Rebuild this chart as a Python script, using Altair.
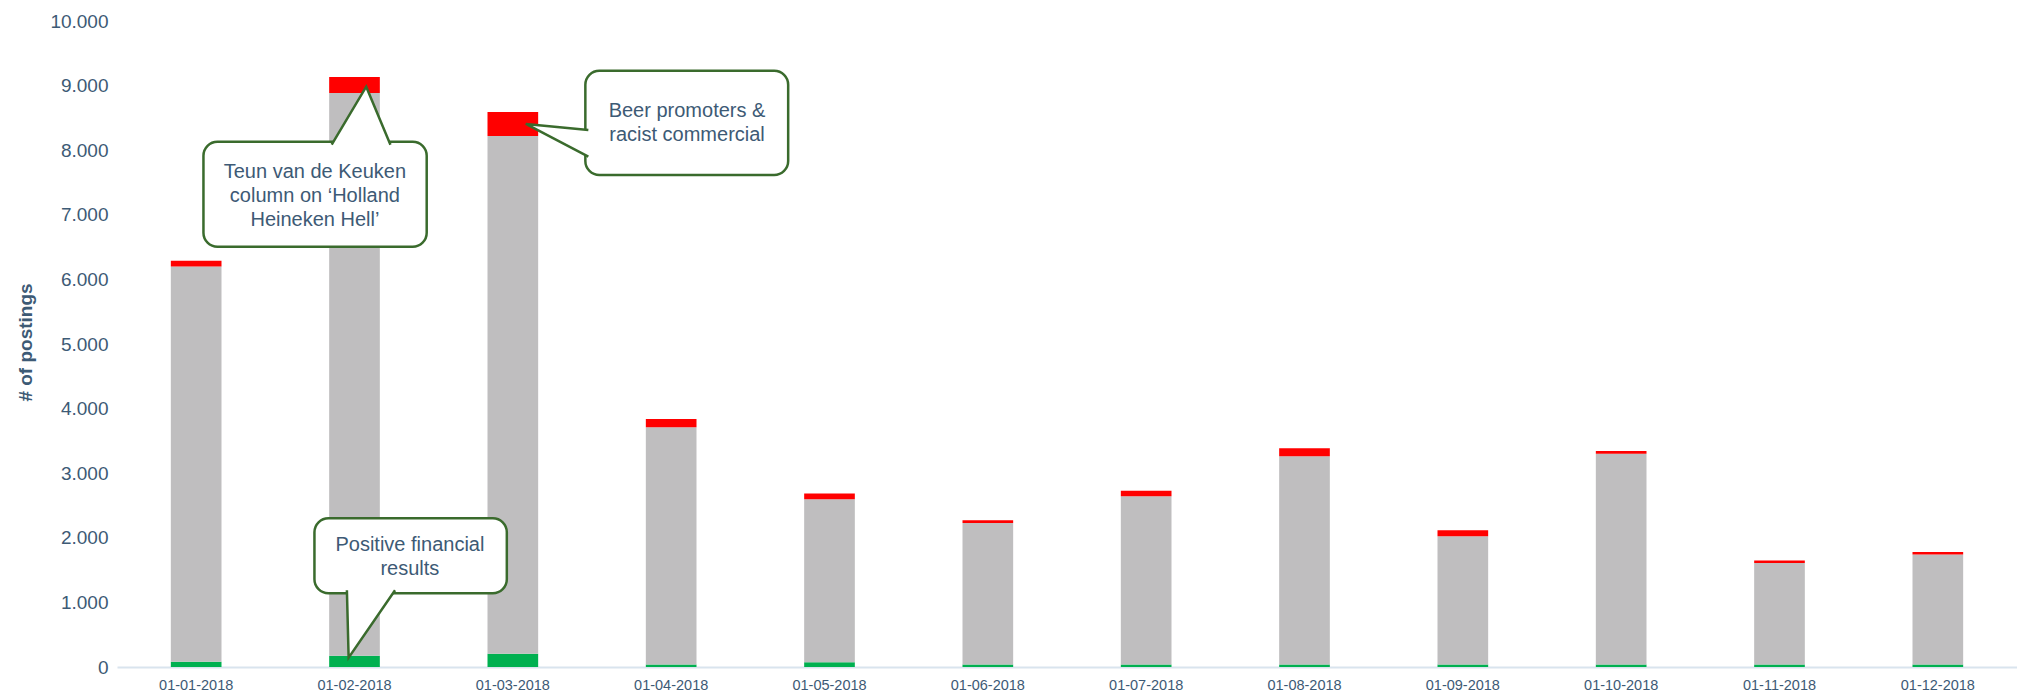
import altair as alt
import pandas as pd

# ---------------- data ----------------
months = ["01-01-2018", "01-02-2018", "01-03-2018", "01-04-2018", "01-05-2018", "01-06-2018",
          "01-07-2018", "01-08-2018", "01-09-2018", "01-10-2018", "01-11-2018", "01-12-2018"]
positive = [80, 175, 205, 40, 75, 40, 40, 40, 40, 40, 40, 40]
neutral = [6120, 8710, 8015, 3670, 2520, 2188, 2605, 3222, 1985, 3262, 1570, 1700]
negative = [90, 250, 370, 130, 90, 42, 83, 123, 90, 43, 40, 40]

sentiments = ["Positive", "Neutral", "Negative"]
sent_colors = ["#00B050", "#BFBEBF", "#FF0000"]
y_ticks = [0, 1000, 2000, 3000, 4000, 5000, 6000, 7000, 8000, 9000, 10000]

# callouts (x in category units 0..12, y in # of postings)
callout_ids = ["teun", "beer", "fin"]
callout_lines = [
    ["Teun van de Keuken", "column on \u2018Holland", "Heineken Hell\u2019"],
    ["Beer promoters &", "racist commercial"],
    ["Positive financial", "results"],
]
box_x = [0.546, 2.958, 1.247]
box_x2 = [1.956, 4.239, 2.462]
box_y = [8132, 9231, 2302]
box_y2 = [6506, 7616, 1141]
text_x = [1.25, 3.60, 1.85]
text_y = [7667, 8611, 1889]   # first text line of each callout
pointer_x = [[1.356, 1.574, 1.727], [2.977, 2.582, 2.977], [1.452, 1.463, 1.756]]
pointer_y = [[8086, 8983, 8086], [8313, 8406, 7900], [1187, 144, 1187]]

# ---------------- tables ----------------
rows = []
for i, m in enumerate(months):
    for r, (s, v) in enumerate(zip(sentiments, [positive[i], neutral[i], negative[i]])):
        rows.append({"month": m, "sentiment": s, "value": v, "rank": r})
df = pd.DataFrame(rows)

boxes = pd.DataFrame({"id": callout_ids, "x": box_x, "x2": box_x2, "y": box_y, "y2": box_y2})
texts = pd.DataFrame({"id": callout_ids, "x": text_x, "y": text_y, "lines": callout_lines})
prow = []
for cid, xs, ys in zip(callout_ids, pointer_x, pointer_y):
    for k, (px, py) in enumerate(zip(xs, ys)):
        prow.append({"id": cid, "k": k, "x": px, "y": py})
pointers = pd.DataFrame(prow)

FONT = "Liberation Sans"
TXT = "#3D5A75"
GREEN_LINE = "#3A6B2D"

yscale = alt.Scale(domain=[0, 10000], nice=False, zero=True)
xq = alt.Scale(domain=[0, 12], nice=False, zero=False)

yaxis = alt.Axis(values=y_ticks, grid=False, ticks=False, domain=False,
                 labelExpr="replace(format(datum.value, ','), ',', '.')",
                 labelFontSize=19, labelColor=TXT, labelFont=FONT, labelPadding=9,
                 title="# of postings", titleFontSize=19, titleFontWeight="bold",
                 titleColor=TXT, titleFont=FONT, titleAngle=270, titleX=-92,
                 titleY=321, titleAlign="center", titleBaseline="middle")

bars = alt.Chart(df).mark_bar().encode(
    x=alt.X("month:N", sort=months,
            scale=alt.Scale(paddingInner=0.68, paddingOuter=0.34),
            axis=alt.Axis(title=None, labelAngle=0, ticks=False, domainColor="#D9E4EE",
                          domainWidth=2, labelFontSize=14.5, labelColor=TXT, labelFont=FONT,
                          labelPadding=11, grid=False)),
    y=alt.Y("value:Q", stack="zero", scale=yscale, axis=yaxis, title="# of postings"),
    color=alt.Color("sentiment:N", scale=alt.Scale(domain=sentiments, range=sent_colors), legend=None),
    order=alt.Order("rank:Q"),
)

box_layer = alt.Chart(boxes).mark_rect(fill="white", stroke=GREEN_LINE, strokeWidth=2.5,
                                       cornerRadius=14).encode(
    x=alt.X("x:Q", scale=xq, axis=None),
    x2="x2:Q",
    y=alt.Y("y:Q", scale=yscale, axis=yaxis, title="# of postings"),
    y2="y2:Q",
)

pointer_layer = alt.Chart(pointers).mark_line(fill="white", stroke=GREEN_LINE, strokeWidth=2.5,
                                              strokeJoin="miter").encode(
    x=alt.X("x:Q", scale=xq, axis=None),
    y=alt.Y("y:Q", scale=yscale, axis=yaxis, title="# of postings"),
    detail="id:N",
    order=alt.Order("k:Q"),
)

text_layer = alt.Chart(texts).mark_text(font=FONT, fontSize=20, color=TXT, lineHeight=24.3,
                                        align="center", baseline="middle").encode(
    x=alt.X("x:Q", scale=xq, axis=None),
    y=alt.Y("y:Q", scale=yscale, axis=yaxis, title="# of postings"),
    text="lines:N",
)

chart = alt.layer(bars, box_layer, pointer_layer, text_layer).resolve_scale(
    x="independent"
).properties(
    width=1900, height=646,
    autosize=alt.AutoSizeParams(type="none"),
    padding={"left": 109, "top": 13, "right": 0, "bottom": 35},
    background="white",
).configure_view(strokeWidth=0)

chart.save("out.html", embed_options={"renderer": "svg", "actions": False})
